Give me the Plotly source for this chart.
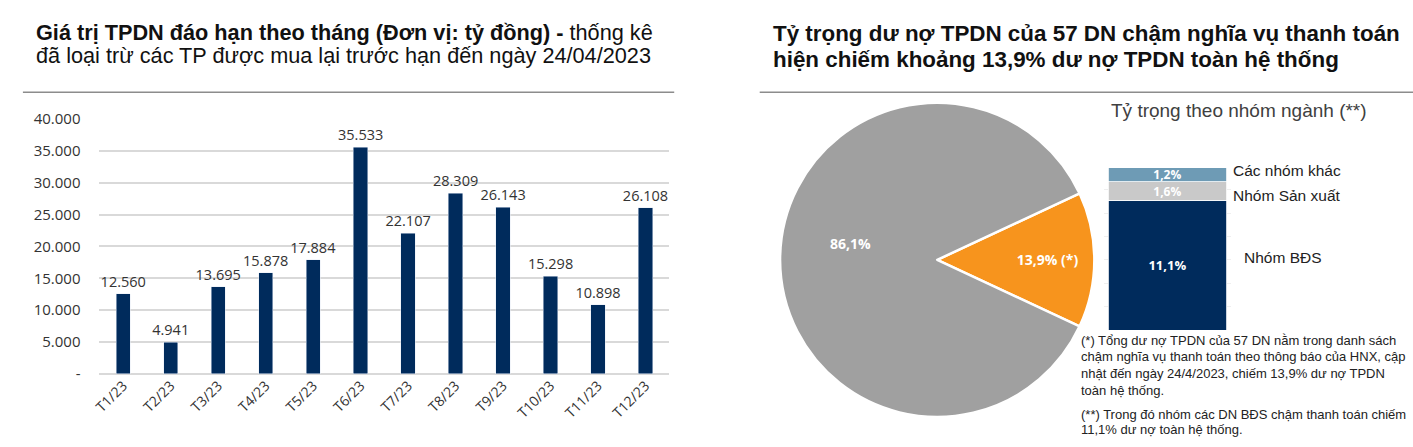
import plotly.graph_objects as go

W, H = 1413, 447

# ---- Data ----
months = ["T1/23", "T2/23", "T3/23", "T4/23", "T5/23", "T6/23",
          "T7/23", "T8/23", "T9/23", "T10/23", "T11/23", "T12/23"]
maturity_values = [12560, 4941, 13695, 15878, 17884, 35533,
                   22107, 28309, 26143, 15298, 10898, 26108]
maturity_labels = ["12.560", "4.941", "13.695", "15.878", "17.884", "35.533",
                   "22.107", "28.309", "26.143", "15.298", "10.898", "26.108"]
y_tickvals = [0, 5000, 10000, 15000, 20000, 25000, 30000, 35000, 40000]
y_ticktext = ["-", "5.000", "10.000", "15.000", "20.000", "25.000",
              "30.000", "35.000", "40.000"]

pie_labels = ["Chậm nghĩa vụ", "Còn lại"]
pie_values = [13.9, 86.1]
pie_text = ["13,9% (*)", "86,1%"]

group_names = ["Nhóm BĐS", "Nhóm Sản xuất", "Các nhóm khác"]
group_values = [11.1, 1.6, 1.2]
group_text = ["11,1%", "1,6%", "1,2%"]


def px_x(x):
    return x / W


def px_y(y):
    return 1 - y / H


NAVY = "#002B5C"
fig = go.Figure()

# ---- Left: bar chart ----
fig.add_trace(go.Bar(
    x=months, y=maturity_values, text=maturity_labels,
    textposition="outside", cliponaxis=False, constraintext="none",
    textfont=dict(family="Open Sans", size=14.5, color="#333333"),
    marker=dict(color=NAVY), width=0.3,
    xaxis="x", yaxis="y", showlegend=False,
))

# ---- Right: pie ----
fig.add_trace(go.Pie(
    labels=pie_labels, values=pie_values, text=[pie_text[0], ""],
    textinfo="text", textposition="inside", insidetextorientation="horizontal",
    sort=False, direction="clockwise", rotation=65,
    marker=dict(colors=["#F7941D", "#A0A0A0"], line=dict(color="white", width=2.5)),
    textfont=dict(family="Open Sans", size=14, color="white", weight="bold"),
    domain=dict(x=[px_x(770), px_x(1099)], y=[px_y(425), px_y(96)]),
    showlegend=False, hoverinfo="label+value",
))

# ---- Right: stacked breakdown bar ----
group_colors = [NAVY, "#C9C9C9", "#6E9BB5"]
group_fsize = [13, 12, 12]
for name, val, txt, col, fs in zip(group_names, group_values, group_text, group_colors, group_fsize):
    fig.add_trace(go.Bar(
        x=["Tỷ trọng"], y=[val], text=[txt], name=name,
        textposition="inside", insidetextanchor="middle", constraintext="none",
        textfont=dict(family="Open Sans", size=fs, color="white", weight="bold"),
        marker=dict(color=col, line=dict(color="white", width=0.8)),
        width=0.93, xaxis="x2", yaxis="y2", showlegend=False,
    ))

fig.update_layout(
    width=W, height=H,
    margin=dict(l=0, r=0, t=0, b=0),
    paper_bgcolor="white", plot_bgcolor="white",
    barmode="stack",
    xaxis=dict(domain=[px_x(92), px_x(665)], showgrid=False, showline=False,
               ticks="", tickangle=-45,
               tickfont=dict(family="Open Sans", size=14, color="#333333")),
    yaxis=dict(domain=[px_y(380), px_y(113)], range=[0, 40000],
               tickvals=y_tickvals, ticktext=y_ticktext,
               showgrid=True, gridcolor="#D9D9D9", gridwidth=1.5,
               zeroline=True, zerolinecolor="#D9D9D9", zerolinewidth=1.5,
               ticks="", ticklabelstandoff=18,
               tickfont=dict(family="Open Sans", size=15, color="#333333")),
    xaxis2=dict(domain=[px_x(1102), px_x(1230)], range=[-0.5, 0.5],
                showticklabels=False, showgrid=False, ticks="", anchor="y2"),
    yaxis2=dict(domain=[px_y(334), px_y(164)], range=[0, 13.9], dtick=2,
                showticklabels=False, showgrid=True, gridcolor="#EFEFEF",
                zeroline=False, ticks="", anchor="x2"),
)


def note(text, x, y, size, family="Liberation Sans", color="#111111", xanchor="left", bold=False):
    fig.add_annotation(
        x=px_x(x), y=px_y(y), xref="paper", yref="paper", xanchor=xanchor,
        yanchor="middle", align="left", showarrow=False, text=text,
        font=dict(family=family, size=size, color=color, weight="bold" if bold else "normal"),
    )


# ---- Titles ----
note("<b>Giá trị TPDN đáo hạn theo tháng (Đơn vị: tỷ đồng) -</b> thống kê", 26, 22, 21.7)
note("đã loại trừ các TP được mua lại trước hạn đến ngày 24/04/2023", 26, 47, 21.7)
note("<b>Tỷ trọng dư nợ TPDN của 57 DN chậm nghĩa vụ thanh toán</b>", 767, 24, 22.4)
note("<b>hiện chiếm khoảng 13,9% dư nợ TPDN toàn hệ thống</b>", 767, 51, 22.4)

# separators
fig.add_shape(type="line", xref="paper", yref="paper",
              x0=px_x(15), x1=px_x(670), y0=px_y(85), y1=px_y(85),
              line=dict(color="#8C8C8C", width=1.5))
fig.add_shape(type="line", xref="paper", yref="paper",
              x0=px_x(756), x1=1, y0=px_y(85), y1=px_y(85),
              line=dict(color="#8C8C8C", width=1.5))

# pie label for the large slice
note(pie_text[1], 847, 243, 14, "Open Sans", "white", "center", bold=True)

# ---- Breakdown subtitle and labels ----
NARROW = "Liberation Sans Narrow, Liberation Sans"
note("Tỷ trọng theo nhóm ngành (**)", 1107, 104, 19, NARROW, "#404040")
label_pos = {"Các nhóm khác": (1230, 167), "Nhóm Sản xuất": (1230, 193), "Nhóm BĐS": (1241, 258)}
for name in group_names:
    lx, ly = label_pos[name]
    note(name, lx, ly, 15.5, NARROW, "#222222")

# ---- Footnotes ----
notes = [
    ("(*) Tổng dư nợ TPDN của 57 DN nằm trong danh sách", 345),
    ("chậm nghĩa vụ thanh toán theo thông báo của HNX, cập", 362),
    ("nhật đến ngày 24/4/2023, chiếm 13,9% dư nợ TPDN", 379),
    ("toàn hệ thống.", 397),
    ("(**) Trong đó nhóm các DN BĐS chậm thanh toán chiếm", 422),
    ("11,1% dư nợ toàn hệ thống.", 438),
]
for txt, ny in notes:
    note(txt, 1077, ny, 13, color="#222222")

fig.write_html(
    "out.html",
    post_script="document.body.style.margin='0';document.body.style.overflow='hidden';",
    config={"displayModeBar": False},
)
